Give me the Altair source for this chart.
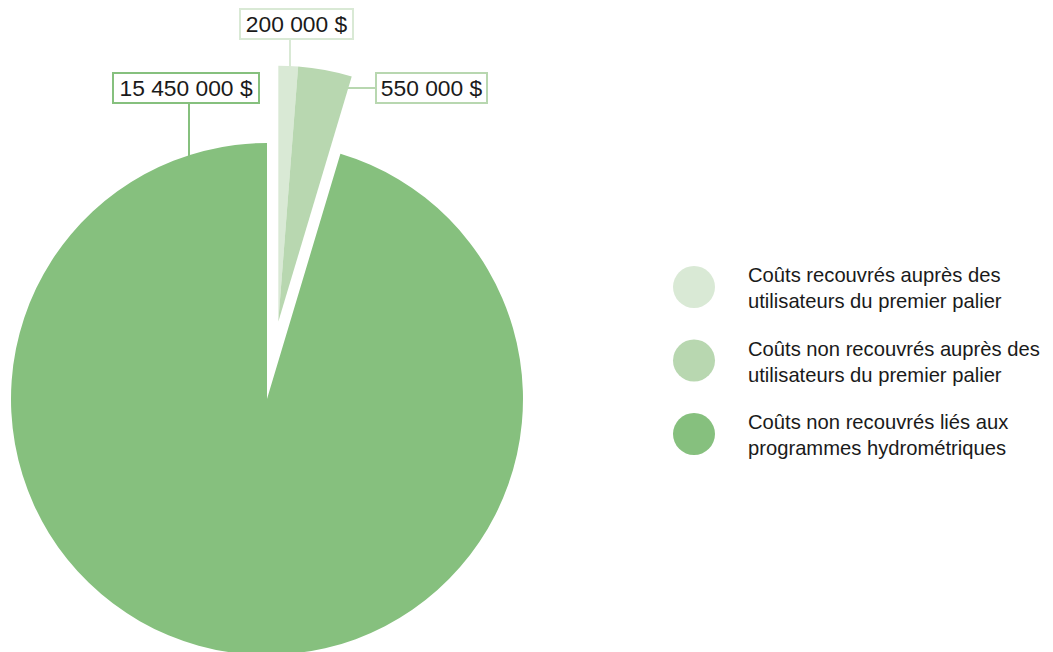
import math
import altair as alt
import pandas as pd

categories = [
    "Coûts recouvrés auprès des\nutilisateurs du premier palier",
    "Coûts non recouvrés auprès des\nutilisateurs du premier palier",
    "Coûts non recouvrés liés aux\nprogrammes hydrométriques",
]
values = [200000, 550000, 15450000]
value_labels = ["200 000 $", "550 000 $", "15 450 000 $"]
exploded = [True, True, False]
colors = ["#d9e9d5", "#b8d7b0", "#86c07e"]

FONT = "Liberation Sans"
total = sum(values)
t1 = list(pd.Series(values).cumsum())
t0 = [0] + t1[:-1]
df = pd.DataFrame({"cat": categories, "value": values, "t0": t0, "t1": t1,
                   "exploded": exploded, "label": value_labels})

R = 256
cx, cy = 259, 391
# explode the small slices outwards along their mid angle
small_total = sum(v for v, e in zip(values, exploded) if e)
mid = small_total / total * math.pi
dist = 78
ex, ey = cx + dist * math.sin(mid), cy - dist * math.cos(mid)

color_scale = alt.Scale(domain=categories, range=colors)
theta_scale = alt.Scale(domain=[0, total], range=[0, 2 * math.pi])

arc_base = alt.Chart(df).mark_arc(radius=R).encode(
    theta=alt.Theta("t0:Q", scale=theta_scale),
    theta2="t1:Q",
    color=alt.Color("cat:N", scale=color_scale, legend=None),
)
big = arc_base.transform_filter("!datum.exploded").encode(x=alt.value(cx), y=alt.value(cy))
small = arc_base.transform_filter("datum.exploded").encode(x=alt.value(ex), y=alt.value(ey))

# custom legend
leg_y = alt.Y("cat:N", scale=alt.Scale(domain=categories, range=[279, 426], padding=0), axis=None)
leg_dots = alt.Chart(df).mark_circle(size=42 * 42, opacity=1).encode(
    y=leg_y, x=alt.value(686), color=alt.Color("cat:N", scale=color_scale, legend=None))
leg_text = alt.Chart(df).mark_text(
    font=FONT, fontSize=20.2, color="#1a1a1a", align="left", baseline="middle",
    lineBreak="\n", lineHeight=26, dy=-11).encode(y=leg_y, x=alt.value(740), text="cat:N")


def annotation(i, box, text_xy, line):
    d = alt.Chart(pd.DataFrame({"label": [value_labels[i]]}))
    rule = d.mark_rule(color=colors[i], strokeWidth=2).encode(
        x=alt.value(line[0]), y=alt.value(line[1]), x2=alt.value(line[2]), y2=alt.value(line[3]))
    rect = d.mark_rect(fill="white", stroke=colors[i], strokeWidth=2).encode(
        x=alt.value(box[0]), x2=alt.value(box[1]), y=alt.value(box[2]), y2=alt.value(box[3]))
    txt = d.mark_text(font=FONT, fontSize=22.8, color="#1a1a1a", align="center", baseline="middle").encode(
        x=alt.value(text_xy[0]), y=alt.value(text_xy[1]), text="label:N")
    return [rule, rect, txt]


ann = []
ann += annotation(0, (232, 345, 1, 31), (288.5, 17), (282, 31, 282, 60))
ann += annotation(1, (368, 479, 65, 95), (423.5, 81), (340, 80, 368, 80))
ann += annotation(2, (105, 251, 65, 95), (178, 81), (181, 95, 181, 150))

chart = alt.layer(big, small, *ann, leg_dots, leg_text).properties(
    width=1037, height=660, autosize="none", padding=0
).configure_view(stroke=None)

chart.save("out.html", embed_options={"renderer": "svg", "actions": False})
